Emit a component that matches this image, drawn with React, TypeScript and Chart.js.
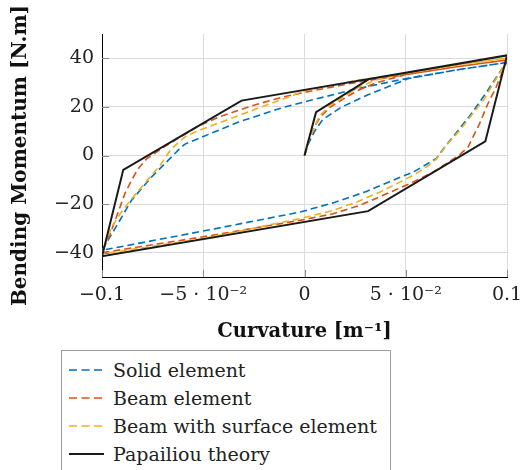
import React, { useEffect, useRef } from "react";
import { Chart, registerables } from "chart.js";

Chart.register(...registerables);

// ---- data (curvature [1/m], bending moment [N.m]) ----
const solidX = [0, 0.002, 0.005, 0.009, 0.018, 0.03, 0.051, 0.075, 0.1,
  0.0963, 0.0897, 0.0815, 0.0692, 0.0651, 0.0593, 0.0535, 0.0478, 0.0306, 0.0141, -0.0023, -0.0526, -0.1,
  -0.093, -0.0855, -0.0756, -0.069, -0.0625, -0.0592, -0.0526, -0.0427, -0.0329, -0.023, -0.0105, 0.0026, 0.025, 0.051, 0.075, 0.1];
const solidY = [0, 5, 10, 14.8, 19.8, 24.5, 31.6, 35.2, 38.3,
  34.2, 25.8, 16.2, 3.4, -1.2, -4.1, -6.9, -8.8, -14.8, -19.5, -23.3, -31.5, -39,
  -29.3, -18.5, -8.9, -3.4, 2.1, 4.6, 6.9, 10.3, 13.7, 16.4, 19.8, 22.6, 27.3, 31.8, 35.2, 38.3];

const beamX = [0, 0.002, 0.005, 0.008, 0.0125, 0.019, 0.026, 0.035, 0.05, 0.075, 0.1,
  0.0946, 0.0905, 0.0864, 0.0807, 0.0765, 0.0634, 0.0519, 0.0388, 0.0273, 0.0141, -0.0023, -0.0526, -0.1,
  -0.0953, -0.092, -0.0887, -0.0855, -0.0822, -0.078, -0.07, -0.0526, -0.0427, -0.0329, -0.023, -0.01, 0, 0.025, 0.05, 0.075, 0.1];
const beamY = [0, 6, 12, 16, 19.8, 23.2, 26.6, 29.8, 33.3, 36.5, 39.3,
  28, 21.2, 13, 3.4, 0.2, -6.9, -11.6, -16.4, -20.5, -24, -26.7, -33.8, -40,
  -30.8, -23.3, -15.7, -10.3, -5.5, -1.4, 3.2, 12, 15.7, 18.5, 21.2, 24.2, 26, 30, 33.3, 36.5, 39.3];

const surfX = [0, 0.002, 0.005, 0.0075, 0.0125, 0.019, 0.0264, 0.035, 0.05, 0.075, 0.1,
  0.0971, 0.093, 0.0889, 0.0823, 0.0766, 0.07, 0.0651, 0.0593, 0.0535, 0.0486, 0.0371, 0.0256, 0.0141, -0.0023, -0.05, -0.1,
  -0.0953, -0.091, -0.087, -0.0763, -0.0713, -0.066, -0.0625, -0.0582, -0.05, -0.0368, -0.0237, -0.0105, 0, 0.025, 0.05, 0.075, 0.1];
const surfY = [0, 6, 12, 16.4, 20.5, 24, 28, 31, 33.9, 37.2, 40.1,
  34.9, 29.4, 23.3, 16.4, 10.3, 4.1, -1.5, -5.3, -8.2, -10.3, -15.1, -19.2, -22.6, -26, -34.2, -40.5,
  -29.4, -24, -19.5, -8.9, -4.1, 2.5, 5.2, 8.2, 11, 15.1, 19.2, 23.3, 26.6, 30.8, 33.9, 37.2, 40.1];

const papX = [0, 0.0057, 0.032, 0.1, 0.0893, 0.0314, -0.1, -0.0895, -0.0311, 0.1];
const papY = [0, 17.8, 31.5, 41.2, 5.8, -22.9, -41.5, -5.9, 22.6, 41.2];

const xTicks = [-0.1, -0.05, 0, 0.05, 0.1];
const xTickLabels = ["\u22120.1", "\u22125 \u00b7 10\u207b\u00b2", "0", "5 \u00b7 10\u207b\u00b2", "0.1"];
const yTicks = [-40, -20, 0, 20, 40];
const yTickLabels = ["\u221240", "\u221220", "0", "20", "40"];

const seriesNames = ["Solid element", "Beam element", "Beam with surface element", "Papailiou theory"];
const seriesColors = ["#0072BD", "#D95319", "#EDB120", "#1a1a1a"];
const seriesDashed = [true, true, true, false];

const SERIF = "'DejaVu Serif', serif";

const zip = (xs: number[], ys: number[]) => xs.map((x, i) => ({ x, y: ys[i] }));

const innerTicks = {
  id: "innerTicks",
  beforeDatasetsDraw(chart: any) {
    const { ctx, chartArea, scales } = chart;
    ctx.save();
    ctx.strokeStyle = "#8a8a8a";
    ctx.lineWidth = 1;
    yTicks.forEach((v) => {
      const y = Math.round(scales.y.getPixelForValue(v)) + 0.5;
      ctx.beginPath();
      ctx.moveTo(chartArea.left, y);
      ctx.lineTo(chartArea.left + 7, y);
      ctx.stroke();
    });
    xTicks.forEach((v) => {
      const x = Math.round(scales.x.getPixelForValue(v)) + 0.5;
      ctx.beginPath();
      ctx.moveTo(x, chartArea.bottom);
      ctx.lineTo(x, chartArea.bottom - 7);
      ctx.stroke();
    });
    ctx.restore();
  },
};

export default function App() {
  const ref = useRef<HTMLCanvasElement | null>(null);

  useEffect(() => {
    if (!ref.current) return;
    const allX = [solidX, beamX, surfX, papX];
    const allY = [solidY, beamY, surfY, papY];
    const chart = new Chart(ref.current, {
      type: "scatter",
      data: {
        datasets: seriesNames.map((name, i) => ({
          label: name,
          data: zip(allX[i], allY[i]),
          showLine: true,
          borderColor: seriesColors[i],
          backgroundColor: seriesColors[i],
          borderWidth: seriesDashed[i] ? 1.6 : 2,
          borderDash: seriesDashed[i] ? [7, 4] : [],
          pointRadius: 0,
          tension: 0,
          order: 4 - i,
        })),
      },
      options: {
        animation: false,
        responsive: false,
        events: [],
        layout: { padding: { left: 0, top: 34, right: 15, bottom: 123 } },
        plugins: { legend: { display: false }, tooltip: { enabled: false } },
        scales: {
          x: {
            type: "linear",
            min: -0.1,
            max: 0.1,
            afterBuildTicks: (scale: any) => {
              scale.ticks = xTicks.map((v) => ({ value: v }));
            },
            afterFit: (scale: any) => {
              scale.height = 70;
              scale.paddingLeft = 0;
              scale.paddingRight = 0;
            },
            ticks: {
              padding: 7,
              color: "#222",
              font: { family: SERIF, size: 19 },
              maxRotation: 0,
              autoSkip: false,
              callback: (v: any) => {
                const i = xTicks.findIndex((t) => Math.abs(t - Number(v)) < 1e-9);
                return i >= 0 ? xTickLabels[i] : "";
              },
            },
            grid: { color: "#dcdcdc", lineWidth: 1, drawTicks: false },
            border: { display: true, color: "#000", width: 1 },
            title: {
              display: true,
              text: "Curvature [m\u207b\u00b9]",
              color: "#111",
              font: { family: SERIF, size: 19.5, weight: "bold" },
              padding: { top: 0, bottom: 3 },
            },
          },
          y: {
            type: "linear",
            min: -50,
            max: 50,
            afterBuildTicks: (scale: any) => {
              scale.ticks = yTicks.map((v) => ({ value: v }));
            },
            afterFit: (scale: any) => {
              scale.width = 102;
              scale.paddingTop = 0;
              scale.paddingBottom = 0;
            },
            ticks: {
              padding: 8,
              color: "#222",
              font: { family: SERIF, size: 19 },
              callback: (v: any) => {
                const i = yTicks.findIndex((t) => Math.abs(t - Number(v)) < 1e-9);
                return i >= 0 ? yTickLabels[i] : "";
              },
            },
            grid: { color: "#dcdcdc", lineWidth: 1, drawTicks: false },
            border: { display: true, color: "#000", width: 1 },
            title: {
              display: true,
              text: "Bending Momentum [N.m]",
              color: "#111",
              font: { family: SERIF, size: 20, weight: "bold" },
              padding: { top: 9, bottom: 0 },
            },
          },
        },
      },
      plugins: [innerTicks],
    } as any);
    return () => chart.destroy();
  }, []);

  const rowCenters = [19, 47, 75, 103];

  return (
    <div
      style={{
        position: "fixed",
        left: 0,
        top: 0,
        width: 522,
        height: 470,
        overflow: "hidden",
        background: "#fff",
      }}
    >
      <canvas ref={ref} width={522} height={470} style={{ display: "block" }} />
      <div
        style={{
          position: "absolute",
          left: 61,
          top: 350,
          width: 328,
          height: 140,
          border: "1px solid #9a9a9a",
          background: "#fff",
        }}
      >
        {seriesNames.map((name, i) => (
          <div
            key={name}
            style={{
              position: "absolute",
              left: 0,
              top: rowCenters[i] - 13,
              height: 26,
              display: "flex",
              alignItems: "center",
              whiteSpace: "nowrap",
            }}
          >
            <svg width={51} height={6} style={{ display: "block" }}>
              <line
                x1={7}
                y1={3}
                x2={42}
                y2={3}
                stroke={seriesColors[i]}
                strokeWidth={seriesDashed[i] ? 1.6 : 2}
                strokeDasharray={seriesDashed[i] ? "8 4.5" : undefined}
              />
            </svg>
            <span style={{ fontFamily: SERIF, fontSize: 19, color: "#222", lineHeight: "26px" }}>{name}</span>
          </div>
        ))}
      </div>
    </div>
  );
}
